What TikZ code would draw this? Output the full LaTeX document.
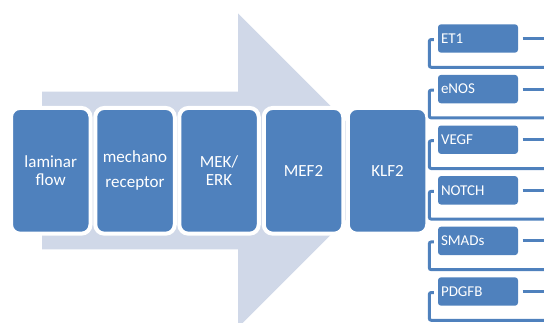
\documentclass[tikz,border=0pt]{standalone}
\usepackage{fontspec}
\setmainfont{Carlito}
\definecolor{boxblue}{HTML}{4F81BD}
\definecolor{arrowgray}{HTML}{D0D8E8}

\begin{document}
\begin{tikzpicture}[x=1pt,y=-1pt]
        \tikzstyle{stage}=[rectangle,rounded corners=9pt,draw=white,line width=4pt,fill=boxblue,text=white,minimum width=79.5pt,minimum height=125.7pt,align=center,font=\fontsize{17}{18.5}\selectfont]
        \tikzstyle{target}=[rectangle,rounded corners=3pt,fill=boxblue,text=white,text width=74pt,inner sep=3pt,minimum height=28.4pt,align=left,font=\fontsize{15}{16}\selectfont]
        \tikzstyle{link}=[draw=boxblue,line width=3pt]

        \useasboundingbox (0,0) rectangle (544,322);

       \begin{scope}
         \clip (0,0) rectangle (544,322);
         % big background arrow
         \fill[arrowgray] (42,91.7) -- (238,91.7) -- (238,13.3) -- (395,170.5)
            -- (238,327.7) -- (238,249.3) -- (42,249.3) -- cycle;
       \end{scope}

       \begin{scope}
         \node [stage] (flow) at (50.75,170.8) {laminar\\flow};
         \node [stage,font=\fontsize{17}{25}\selectfont] (mech) at (135,170.8) {mechano\\receptor};
         \node [stage] (mek) at (219,170.8) {MEK/\\ERK};
         \node [stage] (mef) at (303.5,170.8) {MEF2};
         \node [stage] (klf) at (387.5,170.8) {KLF2};
       \end{scope}

       \begin{scope}
         \clip (0,0) rectangle (544,322);
         \foreach \lbl [count=\i] in {ET1,eNOS,VEGF,NOTCH,SMADs,PDGFB} {
           \node [target] (t\i) at (478,{38.5+50.6*(\i-1)}) {\lbl};
           \coordinate (r\i) at (544,{38.5+50.6*(\i-1)});
           \coordinate (b\i) at (544,{67.3+50.6*(\i-1)});
           \path[link] ([xshift=4.5pt]t\i.east) -- (r\i);
           \path[link, rounded corners=2pt] ([shift={(-4pt,-1pt)}]t\i.west) -- ++(-4.5,0) |- (b\i);
         }
       \end{scope}
      \end{tikzpicture}
\end{document}
